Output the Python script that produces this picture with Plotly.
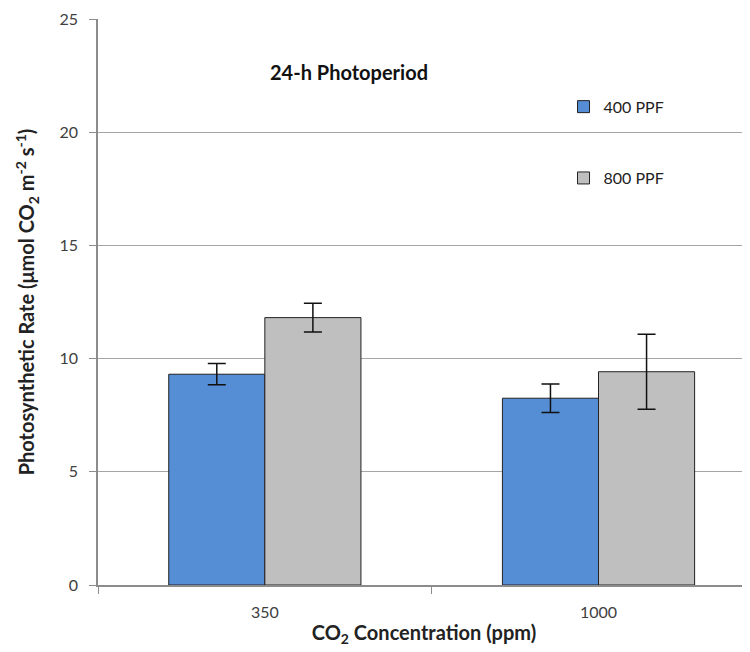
import plotly.graph_objects as go

categories = ["350", "1000"]
series_names = ["400 PPF", "800 PPF"]
vals_400 = [9.31, 8.25]
err_400 = [0.47, 0.63]
vals_800 = [11.81, 9.42]
err_800 = [0.63, 1.66]
colors = ["#558ED5", "#BFBFBF"]

xpos = list(range(len(categories)))
font_family = "Lato, 'Open Sans', sans-serif"

fig = go.Figure()
for name, vals, errs, col, lg in [
    (series_names[0], vals_400, err_400, colors[0], "legend"),
    (series_names[1], vals_800, err_800, colors[1], "legend2"),
]:
    fig.add_trace(go.Bar(
        x=xpos, y=vals, name=name, showlegend=True,
        marker=dict(color=col, line=dict(color="#222222", width=1)),
        error_y=dict(type="data", array=errs, visible=True, color="#111111",
                     thickness=1.5, width=9),
        legend=lg,
    ))

fig.update_layout(
    width=742, height=644,
    margin=dict(l=90, r=0, t=11, b=67),
    paper_bgcolor="white", plot_bgcolor="white",
    showlegend=True,
    barmode="group", bargap=0.424, bargroupgap=0,
    font=dict(family=font_family, size=16, color="#333333"),
    legend=dict(x=0.714, y=0.845, xanchor="left", yanchor="middle",
                bgcolor="rgba(0,0,0,0)", font=dict(size=16, color="#222222")),
    legend2=dict(x=0.714, y=0.719, xanchor="left", yanchor="middle",
                 bgcolor="rgba(0,0,0,0)", font=dict(size=16, color="#222222")),
    xaxis=dict(
        range=[-0.5, 1.454], automargin=False,
        tickvals=xpos, ticktext=categories, ticks="", ticklabelstandoff=12,
        showline=True, linecolor="#8C8C8C", linewidth=1.5,
        showgrid=False, zeroline=False,
        minor=dict(tickvals=[-0.5, 0.5, 1.5], ticks="outside", ticklen=7,
                   tickcolor="#8C8C8C", showgrid=False),
        tickfont=dict(size=16, color="#404040"),
        title=dict(text="<b>CO<sub>2</sub> Concentration (ppm)</b>",
                   font=dict(size=20, color="#222222"), standoff=6),
    ),
    yaxis=dict(
        range=[0, 25], tickvals=[0, 5, 10, 15, 20, 25], automargin=False,
        showgrid=True, gridcolor="#A6A6A6", gridwidth=1,
        showline=True, linecolor="#8C8C8C", linewidth=1.5,
        ticks="outside", ticklen=7, tickcolor="#8C8C8C", ticklabelstandoff=8,
        zeroline=False,
        tickfont=dict(size=16, color="#404040"),
        title=dict(text="<b>Photosynthetic Rate (μmol CO<sub>2</sub> m<sup>-2</sup> s<sup>-1</sup>)</b>",
                   font=dict(size=20, color="#222222"), standoff=19),
    ),
    annotations=[dict(
        text="<b>24-h Photoperiod</b>", x=0.261, y=0.906,
        xref="paper", yref="paper", xanchor="left", yanchor="middle",
        showarrow=False, font=dict(size=20, color="#111111"),
    )],
)

fig.write_html("out.html")
